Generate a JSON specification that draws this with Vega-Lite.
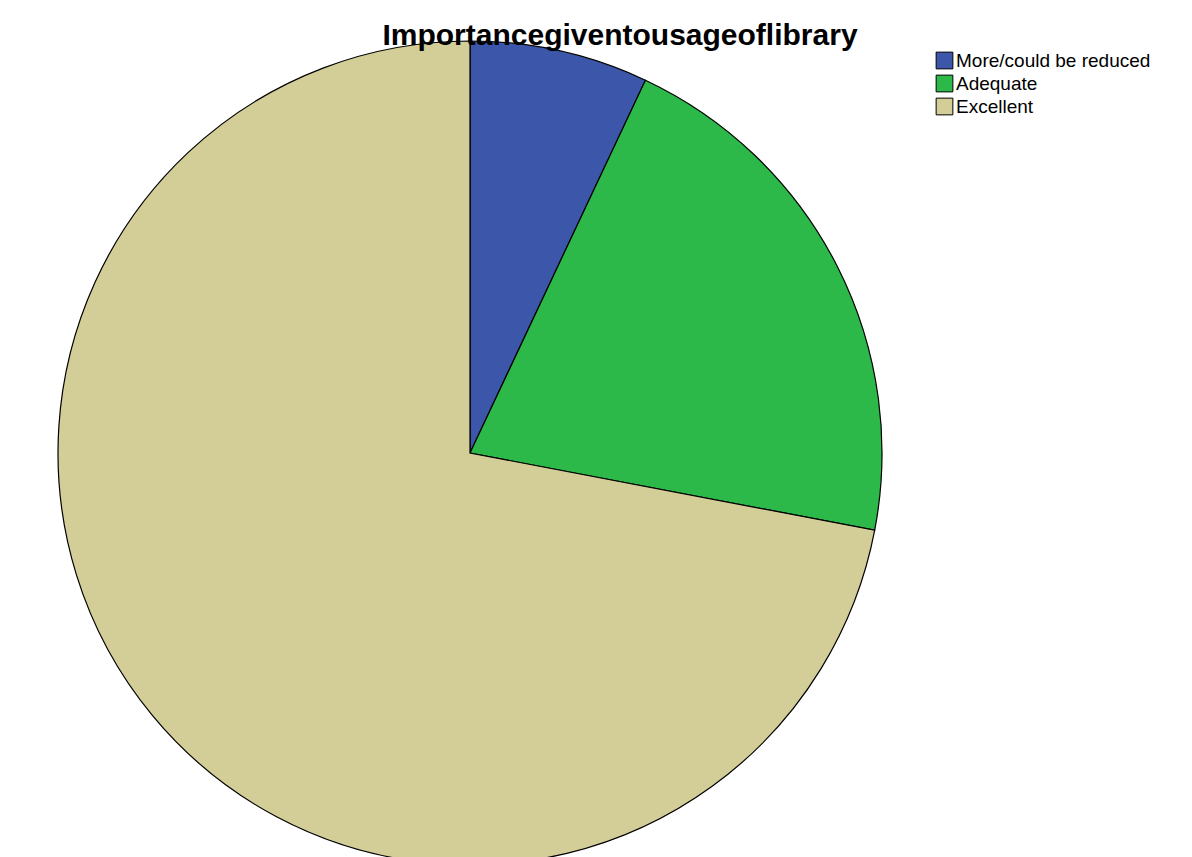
{
  "$schema": "https://vega.github.io/schema/vega-lite/v6.json",
  "autosize": {"type": "none"},
  "width": 940,
  "height": 816,
  "padding": {"left": 0, "top": 45, "right": 252, "bottom": 0},
  "background": "white",
  "title": {"text": "Importancegiventousageoflibrary", "font": "Liberation Sans", "fontSize": 30, "fontWeight": "bold", "color": "#000000", "anchor": "middle", "dx": 150, "offset": -12},
  "view": {"stroke": null},
  "data": {"values": [
    {"category": "More/could be reduced", "value": 7, "order": 1},
    {"category": "Adequate", "value": 21, "order": 2},
    {"category": "Excellent", "value": 72, "order": 3}
  ]},
  "mark": {"type": "arc", "outerRadius": 412, "stroke": "#000000", "strokeWidth": 1.2},
  "encoding": {
    "theta": {"field": "value", "type": "quantitative", "stack": true},
    "order": {"field": "order", "type": "quantitative"},
    "color": {
      "field": "category",
      "type": "nominal",
      "sort": ["More/could be reduced", "Adequate", "Excellent"],
      "scale": {"domain": ["More/could be reduced", "Adequate", "Excellent"], "range": ["#3c56a9", "#2db84a", "#d3ce97"]},
      "legend": {
        "title": null,
        "orient": "none",
        "legendX": 935,
        "legendY": 6,
        "symbolType": "square",
        "symbolSize": 280,
        "symbolStrokeColor": "#000000",
        "symbolStrokeWidth": 1,
        "labelFont": "Liberation Sans",
        "labelFontSize": 19,
        "labelLimit": 400,
        "labelColor": "#000000",
        "rowPadding": 2,
        "labelOffset": 2
      }
    }
  }
}
